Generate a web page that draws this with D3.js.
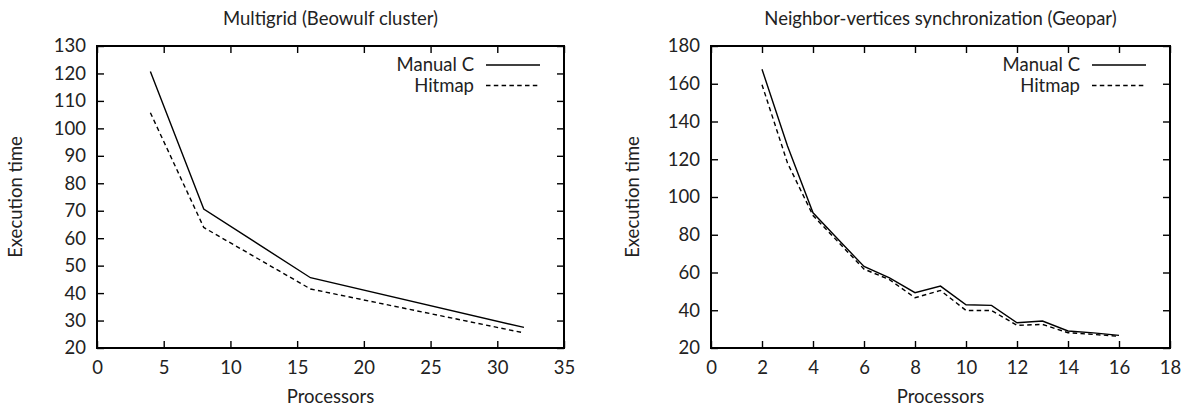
<!DOCTYPE html>
<html>
<head>
<meta charset="utf-8">
<script src="https://cdn.jsdelivr.net/npm/d3@7"></script>
<style>
  body { margin: 0; background: #fff; }
  svg text { font-family: Lato, "Liberation Sans", sans-serif; fill: #222; }
</style>
</head>
<body>
<svg id="chart" width="1199" height="407"></svg>
<script>
// --- data ---
var mgProcs = [4, 8, 16, 32];
var mgManual = [120.7, 70.6, 45.6, 27.5];
var mgHitmap = [105.7, 63.9, 41.5, 25.5];

var geoProcs = [2, 3, 4, 5, 6, 7, 8, 9, 10, 11, 12, 13, 14, 15, 16];
var geoManual = [167.7, 127, 91.6, 77.3, 63.2, 57.2, 49.3, 52.8, 42.9, 42.6, 33.4, 34.3, 29, 28, 26.7];
var geoHitmap = [159.5, 118, 90.2, 76, 61.8, 56.2, 46.6, 50.5, 39.9, 39.9, 32, 32.5, 28.1, 27.2, 26.2];

var mgXTicks = [0, 5, 10, 15, 20, 25, 30, 35];
var mgYTicks = [20, 30, 40, 50, 60, 70, 80, 90, 100, 110, 120, 130];
var geoXTicks = [0, 2, 4, 6, 8, 10, 12, 14, 16, 18];
var geoYTicks = [20, 40, 60, 80, 100, 120, 140, 160, 180];

var seriesNames = ["Manual C", "Hitmap"];

var FS = 18.5;
var DASH = "4.5,3.3";
var svg = d3.select("#chart");

function drawPanel(opts) {
  var g = svg.append("g");
  var x = d3.scaleLinear().domain(opts.xDomain).range([opts.left, opts.right]);
  var y = d3.scaleLinear().domain(opts.yDomain).range([opts.bottom, opts.top]);
  var tick = 7;

  // frame
  g.append("rect")
    .attr("x", opts.left).attr("y", opts.top)
    .attr("width", opts.right - opts.left).attr("height", opts.bottom - opts.top)
    .attr("fill", "none").attr("stroke", "#000").attr("stroke-width", 2);

  // axes: labels outside, ticks inside on all four sides (gnuplot style)
  var xAxis = d3.axisBottom(x).tickValues(opts.xTicks).tickSize(-tick).tickPadding(13);
  var yAxis = d3.axisLeft(y).tickValues(opts.yTicks).tickSize(-tick).tickPadding(11);
  var xa = g.append("g").attr("transform", "translate(0," + opts.bottom + ")").call(xAxis);
  var ya = g.append("g").attr("transform", "translate(" + opts.left + ",0)").call(yAxis);
  [xa, ya].forEach(function(a) {
    a.select(".domain").remove();
    a.selectAll("line").attr("stroke", "#000").attr("stroke-width", 1.4);
    a.selectAll("text").attr("font-size", FS).attr("font-family", "Lato, sans-serif").attr("fill", "#222");
  });
  // mirrored ticks on top and right
  g.append("g").attr("transform", "translate(0," + opts.top + ")")
    .call(d3.axisTop(x).tickValues(opts.xTicks).tickSize(-tick).tickFormat(""))
    .call(function(a) { a.select(".domain").remove(); a.selectAll("line").attr("stroke-width", 1.4); });
  g.append("g").attr("transform", "translate(" + opts.right + ",0)")
    .call(d3.axisRight(y).tickValues(opts.yTicks).tickSize(-tick).tickFormat(""))
    .call(function(a) { a.select(".domain").remove(); a.selectAll("line").attr("stroke-width", 1.4); });

  // lines
  var line = d3.line().x(function(d) { return x(d[0]); }).y(function(d) { return y(d[1]); });
  var series = [opts.manual, opts.hitmap];
  series.forEach(function(vals, i) {
    g.append("path")
      .datum(opts.procs.map(function(p, k) { return [p, vals[k]]; }))
      .attr("d", line)
      .attr("fill", "none").attr("stroke", "#000").attr("stroke-width", 1.4)
      .attr("stroke-dasharray", i === 1 ? DASH : null);
  });

  // legend
  seriesNames.forEach(function(name, i) {
    var ly = opts.top + 19 + i * 20.5;
    g.append("text").attr("x", opts.right - 90).attr("y", ly).attr("dy", "0.35em")
      .attr("text-anchor", "end").attr("font-size", FS).text(name);
    g.append("line")
      .attr("x1", opts.right - 78).attr("x2", opts.right - 24)
      .attr("y1", ly).attr("y2", ly)
      .attr("stroke", "#000").attr("stroke-width", 1.4)
      .attr("stroke-dasharray", i === 1 ? DASH : null);
  });

  // titles
  g.append("text").attr("x", (opts.left + opts.right) / 2).attr("y", 25)
    .attr("text-anchor", "middle").attr("font-size", FS).text(opts.title);
  g.append("text").attr("x", (opts.left + opts.right) / 2).attr("y", 397).attr("dy", "0.35em")
    .attr("text-anchor", "middle").attr("font-size", FS).text("Processors");
  g.append("text")
    .attr("transform", "translate(" + opts.ylabX + "," + ((opts.top + opts.bottom) / 2) + ") rotate(-90)")
    .attr("dy", "0.35em").attr("text-anchor", "middle").attr("font-size", FS).text("Execution time");
}

drawPanel({
  left: 97, right: 564, top: 46, bottom: 348,
  xDomain: [0, 35], yDomain: [20, 130],
  xTicks: mgXTicks, yTicks: mgYTicks,
  procs: mgProcs, manual: mgManual, hitmap: mgHitmap,
  title: "Multigrid (Beowulf cluster)", ylabX: 16
});

drawPanel({
  left: 711, right: 1170, top: 46, bottom: 348,
  xDomain: [0, 18], yDomain: [20, 180],
  xTicks: geoXTicks, yTicks: geoYTicks,
  procs: geoProcs, manual: geoManual, hitmap: geoHitmap,
  title: "Neighbor-vertices synchronization (Geopar)", ylabX: 633
});
</script>
</body>
</html>
